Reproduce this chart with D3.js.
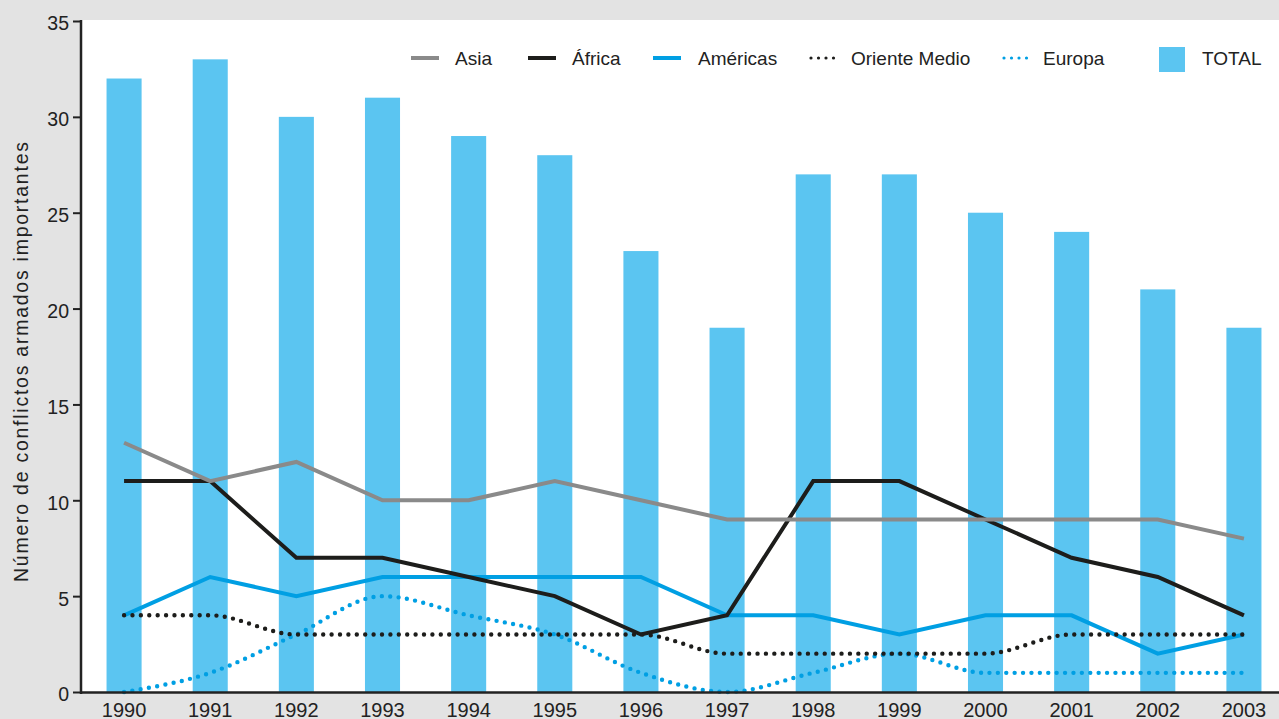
<!DOCTYPE html>
<html>
<head>
<meta charset="utf-8">
<script src="https://cdn.jsdelivr.net/npm/d3@7"></script>
<style>
  html, body { margin: 0; padding: 0; background: #e3e3e3; }
  svg { display: block; }
  text { font-family: "Liberation Sans", Arial, sans-serif; fill: #222; }
</style>
</head>
<body>
<svg id="chart" width="1279" height="719"></svg>
<script>
// ---- Data ----
const years = ["1990","1991","1992","1993","1994","1995","1996","1997","1998","1999","2000","2001","2002","2003"];
const total = [32, 33, 30, 31, 29, 28, 23, 19, 27, 27, 25, 24, 21, 19];
const asia = [13, 11, 12, 10, 10, 11, 10, 9, 9, 9, 9, 9, 9, 8];
const africa = [11, 11, 7, 7, 6, 5, 3, 4, 11, 11, 9, 7, 6, 4];
const americas = [4, 6, 5, 6, 6, 6, 6, 4, 4, 3, 4, 4, 2, 3];
const orienteMedio = [4, 4, 3, 3, 3, 3, 3, 2, 2, 2, 2, 3, 3, 3];
const europa = [0, 1, 3, 5, 4, 3, 1, 0, 1, 2, 1, 1, 1, 1];
const yTicks = [0, 5, 10, 15, 20, 25, 30, 35];
const yLabel = "Número de conflictos armados importantes";
const seriesNames = ["Asia", "África", "Américas", "Oriente Medio", "Europa", "TOTAL"];

// ---- Styles ----
const C = { bar: "#5bc5f1", asia: "#8a8a8a", africa: "#1d1d1b", americas: "#009fe3", grey: "#e3e3e3", axis: "#222" };

const svg = d3.select("#chart");
const W = 1279, H = 719;
const plot = { left: 81, top: 20, right: 1279, bottom: 692.5 };

svg.append("rect").attr("width", W).attr("height", H).attr("fill", C.grey);
svg.append("rect").attr("x", plot.left).attr("y", plot.top)
  .attr("width", plot.right - plot.left).attr("height", plot.bottom - plot.top).attr("fill", "#fff");

const x = d3.scaleBand().domain(years).range([81, 1287]).paddingInner(0.593).paddingOuter(0.2965);
const y = d3.scaleLinear().domain([0, 35]).range([692, 21]);
const cx = d => x(d) + x.bandwidth() / 2;

// bars
svg.append("g").selectAll("rect").data(years).join("rect")
  .attr("x", d => x(d)).attr("width", x.bandwidth())
  .attr("y", (d, i) => y(total[i])).attr("height", (d, i) => y(0) - y(total[i]))
  .attr("fill", C.bar);

// lines
const linear = d3.line().x((d, i) => cx(years[i])).y(d => y(d));
const smooth = d3.line().x((d, i) => cx(years[i])).y(d => y(d)).curve(d3.curveMonotoneX);

const lines = [
  { data: americas, color: C.americas, dotted: false },
  { data: africa, color: C.africa, dotted: false },
  { data: asia, color: C.asia, dotted: false },
  { data: europa, color: C.americas, dotted: true },
  { data: orienteMedio, color: C.africa, dotted: true }
];
lines.forEach(s => {
  const p = svg.append("path").datum(s.data)
    .attr("fill", "none").attr("stroke", s.color)
    .attr("d", s.dotted ? smooth : linear);
  if (s.dotted) {
    p.attr("stroke-width", 4.4).attr("stroke-linecap", "round").attr("stroke-dasharray", "0 8.4");
  } else {
    p.attr("stroke-width", 4).attr("stroke-linejoin", "miter");
  }
});

// y axis
const yAxis = svg.append("g").attr("transform", `translate(${plot.left},0)`)
  .call(d3.axisLeft(y).tickValues(yTicks).tickSize(8).tickPadding(4));
yAxis.select(".domain").remove();
yAxis.selectAll(".tick line").attr("stroke", C.axis).attr("stroke-width", 2);
yAxis.selectAll(".tick text").attr("font-size", 19.5).attr("dy", "0.46em")
  .attr("font-family", "Liberation Sans, Arial, sans-serif").attr("fill", "#222");
svg.append("line").attr("x1", plot.left).attr("x2", plot.left).attr("y1", 20).attr("y2", 694)
  .attr("stroke", C.axis).attr("stroke-width", 2.5);

// x axis
const xAxis = svg.append("g").attr("transform", `translate(0,${plot.bottom})`)
  .call(d3.axisBottom(x).tickSize(0).tickPadding(0));
xAxis.select(".domain").remove();
xAxis.selectAll(".tick text").attr("font-size", 20).attr("dy", 24)
  .attr("font-family", "Liberation Sans, Arial, sans-serif").attr("fill", "#222");
svg.append("line").attr("x1", plot.left).attr("x2", plot.right).attr("y1", plot.bottom).attr("y2", plot.bottom)
  .attr("stroke", C.axis).attr("stroke-width", 2.5);

// y label
svg.append("text").attr("transform", "translate(28,362) rotate(-90)")
  .attr("text-anchor", "middle").attr("font-size", 19.5)
  .attr("textLength", 440).attr("lengthAdjust", "spacing")
  .text(yLabel);

// legend
const legendLayout = [
  { sx: 411, tx: 455, type: "line", color: C.asia },
  { sx: 528, tx: 572, type: "line", color: C.africa },
  { sx: 653, tx: 698, type: "line", color: C.americas },
  { sx: 810, tx: 851, type: "dot", color: C.africa },
  { sx: 1003, tx: 1043, type: "dot", color: C.americas },
  { sx: 1159, tx: 1202, type: "rect", color: C.bar }
];
const ly = 58;
const lg = svg.append("g");
seriesNames.forEach((name, i) => {
  const L = legendLayout[i];
  if (L.type === "line") {
    lg.append("line").attr("x1", L.sx).attr("x2", L.sx + 28).attr("y1", ly).attr("y2", ly)
      .attr("stroke", L.color).attr("stroke-width", 4);
  } else if (L.type === "dot") {
    lg.append("line").attr("x1", L.sx + 1).attr("x2", L.sx + 24).attr("y1", ly).attr("y2", ly)
      .attr("stroke", L.color).attr("stroke-width", 3.2).attr("stroke-linecap", "round")
      .attr("stroke-dasharray", "0 7.5");
  } else {
    lg.append("rect").attr("x", L.sx).attr("y", 47).attr("width", 26).attr("height", 25).attr("fill", L.color);
  }
  lg.append("text").attr("x", L.tx).attr("y", ly).attr("dy", "0.36em")
    .attr("font-size", 19).text(name);
});
</script>
</body>
</html>
